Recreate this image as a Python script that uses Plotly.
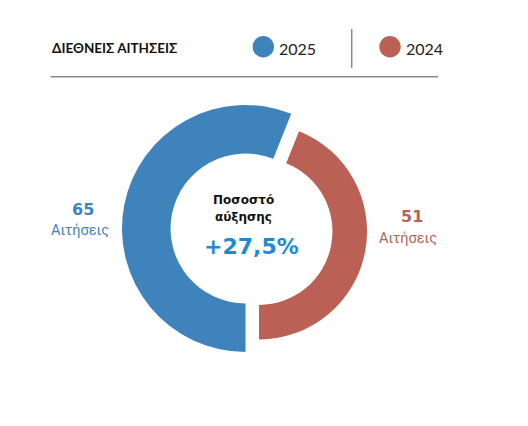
import plotly.graph_objects as go

# ---- data ----
years = ["2025", "2024"]
requests = [65, 51]
growth_label = "+27,5%"
title_text = "ΔΙΕΘΝΕΙΣ ΑΙΤΗΣΕΙΣ"
unit_label = "Αιτήσεις"
center_lines = ["Ποσοστό", "αύξησης"]

# ---- style ----
OFF = 8                       # default page body margin
W, H = 528 - OFF, 426 - OFF
BLUE = "#3f83bd"
RED = "#bb6054"
BRIGHT_BLUE = "#1b8bd3"
FONT = "Lato"
HEAVY = "DejaVu Sans"


def px(x):
    return (x - OFF) / W


def py(y):
    return 1 - (y - OFF) / H


def px_domain(cx, cy, half):
    return dict(x=[px(cx - half), px(cx + half)],
                y=[py(cy + half), py(cy - half)])


fig = go.Figure()

# blue ring (2025)
fig.add_trace(go.Pie(
    labels=years, values=requests, sort=False, direction="clockwise",
    rotation=180, hole=0.607,
    marker=dict(colors=[BLUE, "rgba(0,0,0,0)"], line=dict(width=0)),
    textinfo="none", hoverinfo="label+value", showlegend=False,
    domain=px_domain(245.5, 228.5, 123.5),
))

# red ring (2024), thinner and pulled out
pull = 0.17
r_red = 108
fig.add_trace(go.Pie(
    labels=years, values=requests, sort=False, direction="clockwise",
    rotation=180, hole=0.68, pull=[0, pull],
    marker=dict(colors=["rgba(0,0,0,0)", RED], line=dict(width=0)),
    textinfo="none", hoverinfo="label+value", showlegend=False,
    domain=px_domain(241, 228, r_red * (1 + pull)),
))

ann = []
ann.append(dict(x=px(50), y=py(48), text=f"<b>{title_text}</b>", xanchor="left",
                font=dict(size=13.5, color="#111", family=FONT)))
ann.append(dict(x=px(277), y=py(48), text=years[0], xanchor="left",
                font=dict(size=16, color="#222", family=FONT)))
ann.append(dict(x=px(404), y=py(48), text=years[1], xanchor="left",
                font=dict(size=16, color="#222", family=FONT)))
ann.append(dict(x=px(243), y=py(200), text=f"<b>{center_lines[0]}</b>",
                font=dict(size=12, color="#111", family=HEAVY)))
ann.append(dict(x=px(243), y=py(217), text=f"<b>{center_lines[1]}</b>",
                font=dict(size=12, color="#111", family=HEAVY)))
ann.append(dict(x=px(251.5), y=py(246), text=f"<b>{growth_label}</b>",
                font=dict(size=22, color=BRIGHT_BLUE, family=HEAVY)))
ann.append(dict(x=px(83), y=py(209), text=f"<b>{requests[0]}</b>",
                font=dict(size=16, color=BLUE, family=HEAVY)))
ann.append(dict(x=px(80), y=py(231), text=unit_label,
                font=dict(size=14.5, color=BLUE, family="Roboto")))
ann.append(dict(x=px(412), y=py(216.5), text=f"<b>{requests[1]}</b>",
                font=dict(size=16, color=RED, family=HEAVY)))
ann.append(dict(x=px(408), y=py(238), text=unit_label,
                font=dict(size=14.5, color=RED, family="Roboto")))
for a in ann:
    a.update(xref="paper", yref="paper", showarrow=False, yanchor="middle")
    a.setdefault("xanchor", "center")

R_DOT = 10.7
shapes = [
    dict(type="circle", xref="paper", yref="paper",
         x0=px(263.3 - R_DOT), x1=px(263.3 + R_DOT),
         y0=py(46.7 + R_DOT), y1=py(46.7 - R_DOT),
         fillcolor=BLUE, line=dict(width=0)),
    dict(type="circle", xref="paper", yref="paper",
         x0=px(390 - R_DOT), x1=px(390 + R_DOT),
         y0=py(46.7 + R_DOT), y1=py(46.7 - R_DOT),
         fillcolor=RED, line=dict(width=0)),
    dict(type="line", xref="paper", yref="paper",
         x0=px(351.7), x1=px(351.7), y0=py(29), y1=py(68),
         line=dict(color="#8a8a8a", width=1.5)),
    dict(type="line", xref="paper", yref="paper",
         x0=px(50.5), x1=px(438), y0=py(76.7), y1=py(76.7),
         line=dict(color="#8a8a8a", width=1.5)),
]

fig.update_layout(
    width=W, height=H, margin=dict(l=0, r=0, t=0, b=0),
    paper_bgcolor="white", plot_bgcolor="white",
    annotations=ann, shapes=shapes, showlegend=False,
)

fig.write_html("out.html")
